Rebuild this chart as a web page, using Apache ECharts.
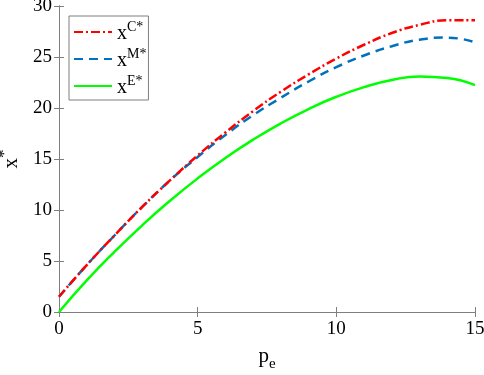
<!DOCTYPE html>
<html>
<head>
<meta charset="utf-8">
<script src="https://cdn.jsdelivr.net/npm/echarts@6/dist/echarts.min.js"></script>
<style>
  html, body { margin: 0; padding: 0; background: #fff; }
  #chart { width: 484px; height: 375px; }
</style>
</head>
<body>
<div id="chart"></div>
<script>
const pe = [0, 1, 2, 3, 4, 5, 6, 7, 8, 9, 10, 11, 12, 13, 14, 15];
const xC = [1.5, 4.6, 7.5, 10.3, 12.9, 15.35, 17.6, 19.7, 21.6, 23.3, 24.85, 26.2, 27.35, 28.15, 28.6, 28.6];
const xM = [1.5, 4.6, 7.5, 10.3, 12.9, 15.2, 17.35, 19.3, 21.0, 22.6, 24.0, 25.15, 26.05, 26.7, 26.9, 26.45];
const xE = [0, 3.1, 5.9, 8.5, 10.9, 13.1, 15.1, 16.9, 18.5, 19.9, 21.1, 22.05, 22.75, 23.1, 22.95, 22.25];
const seriesNames = ["C", "M", "E"];

const font = "'Liberation Serif', 'DejaVu Serif', serif";
const axisGray = "#7f7f7f";

function pairs(ys) {
  return pe.map((x, i) => [x, ys[i]]);
}

const chart = echarts.init(document.getElementById("chart"), null, { renderer: "canvas" });

const baseLine = {
  type: "line",
  smooth: 0.5,
  symbol: "none",
  xAxisIndex: 0,
  yAxisIndex: 0,
};

const frameAxis = {
  axisLine: { show: true, lineStyle: { color: axisGray, width: 1 } },
  axisTick: { show: true, inside: true, length: 5, lineStyle: { color: axisGray } },
  splitLine: { show: false },
};

const option = {
  animation: false,
  textStyle: { fontFamily: font },
  grid: { left: 59, right: 9, top: 6, bottom: 63, outerBoundsMode: "none", containLabel: false },
  legend: {
    orient: "vertical",
    left: 69,
    top: 16,
    itemWidth: 38,
    itemHeight: 14,
    itemGap: 3,
    padding: [4, 2, 2, 4],
    borderColor: axisGray,
    borderWidth: 1,
    backgroundColor: "#fff",
    itemStyle: { opacity: 0 },
    formatter: (name) => "{x|x}{s|" + name + "*}",
    textStyle: {
      fontFamily: font,
      rich: {
        x: { fontFamily: font, fontSize: 20, color: "#000", lineHeight: 24, verticalAlign: "bottom" },
        s: { fontFamily: font, fontSize: 14, color: "#000", lineHeight: 24, verticalAlign: "top" },
      },
    },
    data: seriesNames,
  },
  xAxis: [
    {
      type: "value",
      min: 0,
      max: 15,
      interval: 5,
      name: "{p|p}{s|e}",
      nameLocation: "middle",
      nameGap: 34,
      nameTextStyle: {
        fontFamily: font,
        rich: {
          p: { fontFamily: font, fontSize: 21, color: "#000", lineHeight: 26, verticalAlign: "top" },
          s: { fontFamily: font, fontSize: 15, color: "#000", lineHeight: 26, verticalAlign: "bottom" },
        },
      },
      ...frameAxis,
      axisLabel: { fontFamily: font, fontSize: 19, color: "#000", margin: 8 },
    },
    {
      type: "value",
      min: 0,
      max: 15,
      interval: 5,
      position: "top",
      ...frameAxis,
      axisLabel: { show: false },
    },
  ],
  yAxis: [
    {
      type: "value",
      min: 0,
      max: 30,
      interval: 5,
      name: "{x|x}{s|*}",
      nameLocation: "middle",
      nameRotate: 90,
      nameGap: 26,
      nameTextStyle: {
        fontFamily: font,
        rich: {
          x: { fontFamily: font, fontSize: 21, color: "#000", lineHeight: 26, verticalAlign: "bottom" },
          s: { fontFamily: font, fontSize: 17, color: "#000", lineHeight: 26, verticalAlign: "top" },
        },
      },
      ...frameAxis,
      axisLabel: { fontFamily: font, fontSize: 19, color: "#000", margin: 7 },
    },
    {
      type: "value",
      min: 0,
      max: 30,
      interval: 5,
      position: "right",
      ...frameAxis,
      axisLabel: { show: false },
    },
  ],
  series: [
    {
      ...baseLine,
      name: seriesNames[0],
      data: pairs(xC),
      itemStyle: { color: "#ff0000" },
      lineStyle: { color: "#ff0000", width: 2.5, type: [9, 3, 2, 3] },
      z: 4,
    },
    {
      ...baseLine,
      name: seriesNames[1],
      data: pairs(xM),
      itemStyle: { color: "#0072bd" },
      lineStyle: { color: "#0072bd", width: 2.5, type: [9, 6] },
      z: 3,
    },
    {
      ...baseLine,
      name: seriesNames[2],
      data: pairs(xE),
      itemStyle: { color: "#00ff00" },
      lineStyle: { color: "#00ff00", width: 2.5, type: "solid" },
      z: 2,
    },
  ],
};

chart.setOption(option);
</script>
</body>
</html>
